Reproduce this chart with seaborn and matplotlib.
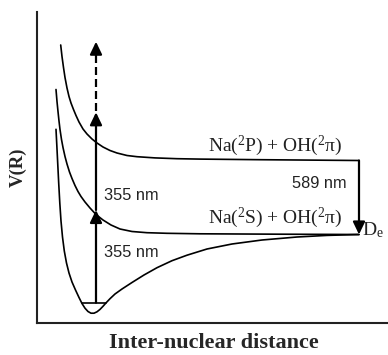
import matplotlib
matplotlib.use("Agg")
import matplotlib.pyplot as plt
import seaborn as sns
import pandas as pd

# ---- data (arbitrary units: R = inter-nuclear distance, V = potential) ----
R_upper = [23.7, 25, 26.5, 28, 30, 32, 34, 36.5, 39, 42, 46, 50, 55, 60, 66, 73, 80, 90, 100, 118, 140, 163, 223, 322]
V_upper = [278, 266.5, 255.5, 245.5, 235, 226.5, 220, 213.5, 207.5, 201, 194, 189, 184, 180, 176, 172.5, 170,
           167.5, 166.3, 165.1, 164.3, 163.9, 163.3, 162.5]

R_middle = [19, 20, 21, 22, 23, 24.5, 26, 28, 30, 32.5, 35, 38, 41, 44, 48, 53, 59, 66, 74, 83, 95, 110, 130, 163, 243, 322]
V_middle = [233.5, 221.5, 211.5, 202, 193.5, 183.5, 175.5, 166.5, 159, 151, 144.5, 137.5, 131.5, 126.5, 121, 115,
            108.5, 103, 98, 94, 91.5, 90.3, 89.7, 89.2, 88.8, 88.5]

R_lower = [19, 19.8, 20.7, 21.7, 22.8, 24, 25.5, 27.3, 29.5, 32, 35, 38.5, 42, 45, 48, 51, 54, 57, 60, 63, 66,
           69, 73, 78, 85, 95, 107, 120, 135, 150, 170, 195, 225, 260, 290, 322]
V_lower = [193.7, 178, 160, 140, 120, 102, 86, 72, 60, 50, 41, 33, 25.5, 19.5, 14.8, 11.5, 9.8, 9.8, 11.2, 13.6,
           16.7, 20.1, 24.3, 29, 34, 40.5, 48, 55.3, 62.3, 67.8, 74, 79, 83, 86, 87.6, 88.5]

level_R = [44.7, 69]
level_V = 20.3

excite_R = 59
excite_V = [20.3, 113, 210.7]      # start, first photon, second photon
dissoc_V = [200, 281.3]            # dashed continuation
emit_R = 322
emit_V = [162.5, 88.5]             # 589 nm emission

label_upper = r"Na($^{2}$P) + OH($^{2}$π)"
label_lower = r"Na($^{2}$S) + OH($^{2}$π)"
label_355 = "355 nm"
label_589 = "589 nm"
label_De = r"D$_{\mathrm{e}}$"
xlabel = "Inter-nuclear distance"
ylabel = "V(R)"

# ---- style ----
sns.set_theme(style="white")
plt.rcParams["font.family"] = ["Liberation Serif", "DejaVu Serif"]
plt.rcParams["mathtext.fontset"] = "custom"
plt.rcParams["mathtext.rm"] = "Liberation Serif"
plt.rcParams["mathtext.it"] = "Liberation Serif:italic"
plt.rcParams["mathtext.default"] = "regular"

fig = plt.figure(figsize=(3.88, 3.55), dpi=100)
ax = fig.add_axes([37 / 388, 32 / 355, 351 / 388, 311 / 355])

curves = pd.concat([
    pd.DataFrame({"R": R_upper, "V": V_upper, "state": "upper"}),
    pd.DataFrame({"R": R_middle, "V": V_middle, "state": "middle"}),
    pd.DataFrame({"R": R_lower, "V": V_lower, "state": "lower"}),
])
sns.lineplot(data=curves, x="R", y="V", units="state", estimator=None, sort=False,
             color="black", linewidth=1.2, ax=ax, legend=False)

# vibrational level
ax.plot(level_R, [level_V, level_V], color="black", linewidth=1.2)

arrow_kw = dict(arrowstyle="-|>,head_length=0.75,head_width=0.36", color="black",
                linewidth=1.6, shrinkA=0, shrinkB=0, mutation_scale=10)

# two-photon excitation
ax.annotate("", xy=(excite_R, excite_V[1]), xytext=(excite_R, excite_V[0]), arrowprops=arrow_kw)
ax.annotate("", xy=(excite_R, excite_V[2]), xytext=(excite_R, excite_V[1]), arrowprops=arrow_kw)
# dashed dissociation
ax.plot([excite_R, excite_R], [dissoc_V[0], dissoc_V[1] - 8], color="black",
        linewidth=1.6, dashes=(3.6, 1.8))
ax.annotate("", xy=(excite_R, dissoc_V[1]), xytext=(excite_R, dissoc_V[1] - 8), arrowprops=arrow_kw)

# 589 nm emission
ax.annotate("", xy=(emit_R, emit_V[1]), xytext=(emit_R, emit_V[0]), arrowprops=arrow_kw)

# text
serif = dict(fontsize=14, color="#222222")
sans = dict(fontsize=11.8, color="#222222", family=["Liberation Sans", "DejaVu Sans"])
ax.text(238.5, 172.3, label_upper, ha="center", va="baseline", **serif)
ax.text(238.5, 99.7, label_lower, ha="center", va="baseline", **serif)
ax.text(67, 123, label_355, ha="left", va="baseline", **sans)
ax.text(67, 65.7, label_355, ha="left", va="baseline", **sans)
ax.text(310, 134.7, label_589, ha="right", va="baseline", **sans)
ax.text(324.5, 88, label_De, ha="left", va="baseline", fontsize=14, color="#222222", clip_on=False)

ax.set_xlim(0, 351)
ax.set_ylim(0, 311)
ax.set_xticks([])
ax.set_yticks([])
ax.set_xlabel(xlabel, fontsize=16, fontweight="bold", va="center")
ax.set_ylabel(ylabel, fontsize=13.5, fontweight="bold", va="center")
ax.xaxis.set_label_coords(0.504, -0.064)
ax.yaxis.set_label_coords(-0.054, 0.5)

for s in ["top", "right"]:
    ax.spines[s].set_visible(False)
for s in ["left", "bottom"]:
    ax.spines[s].set_color("#222222")
    ax.spines[s].set_linewidth(1.5)

fig.savefig("out.png", dpi=100)
